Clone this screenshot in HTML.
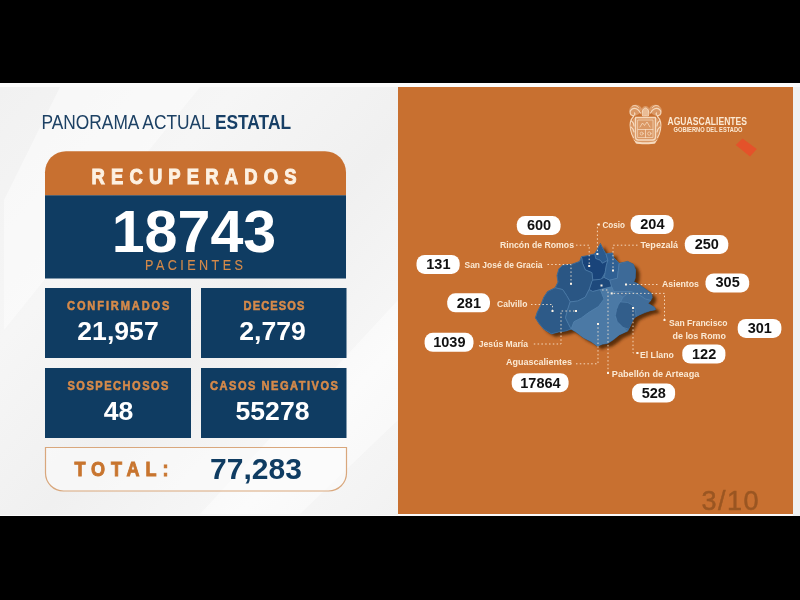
<!DOCTYPE html>
<html lang="es"><head><meta charset="utf-8"><title>Panorama actual estatal</title>
<style>
html,body{margin:0;padding:0;background:#000;}
body{width:800px;height:600px;overflow:hidden;position:relative;font-family:"Liberation Sans",sans-serif;}
svg{position:absolute;left:0;top:0;display:block}
text{font-family:"Liberation Sans",sans-serif}
.b{font-weight:bold}
.lab{fill:#fbe9d3;font-size:9.7px;font-weight:bold}
.pn{font-weight:bold;fill:#111;font-size:14.5px;text-anchor:middle}
.ld{stroke:#fbe9d3;stroke-width:1;fill:none;stroke-dasharray:1.5 2.3;opacity:0.85}
.dt{fill:#fdf3e6}
</style></head><body>
<svg width="800" height="600" viewBox="0 0 800 600">
<defs>
<linearGradient id="bg" x1="0" y1="0" x2="1" y2="1">
<stop offset="0" stop-color="#f1f1f1"/><stop offset="0.3" stop-color="#f6f6f6"/><stop offset="0.55" stop-color="#f0f0f0"/><stop offset="0.8" stop-color="#f7f7f7"/><stop offset="1" stop-color="#f2f2f2"/>
</linearGradient>
<filter id="sh" x="-20%" y="-20%" width="150%" height="150%"><feGaussianBlur stdDeviation="1.8"/></filter>
</defs>
<rect x="0" y="0" width="800" height="600" fill="#000"/>
<rect x="0" y="83" width="800" height="433" fill="#fbfbfb"/>
<rect x="0" y="87" width="398" height="428" fill="url(#bg)"/>
<polygon points="60,87 200,87 4,330 4,200" fill="#ffffff" opacity="0.45"/>
<polygon points="398,300 398,420 300,514 200,514" fill="#ffffff" opacity="0.45"/>
<rect x="793" y="87" width="7" height="429" fill="#f0f2f2"/>

<rect x="398" y="87" width="395" height="427" fill="#c87030"/>
<text x="41.5" y="129" font-size="21" fill="#1d4164" textLength="249.5" lengthAdjust="spacingAndGlyphs">PANORAMA ACTUAL <tspan class="b" fill="#173f66">ESTATAL</tspan></text>
<path d="M45 195.500V172.200a21 21 0 0 1 21-21H325a21 21 0 0 1 21 21V195.500Z" fill="#c87030"/>
<rect x="45" y="195.300" width="301" height="83.200" fill="#0f3c62"/>
<text class="b" transform="translate(91.5 184) scale(0.84 1)" font-size="22" fill="#fdf1e2" stroke="#fdf1e2" stroke-width="0.99" textLength="244.05" lengthAdjust="spacing">RECUPERADOS</text>
<text x="194" y="252" class="b" font-size="59.2" fill="#ffffff" text-anchor="middle">18743</text>
<text transform="translate(145 270.3) scale(0.9 1)" font-size="14" fill="#d68a4a" stroke="#d68a4a" stroke-width="0.15" textLength="108.89" lengthAdjust="spacing">PACIENTES</text>
<rect x="45" y="288" width="146" height="70" fill="#0f3c62"/>
<text class="b" transform="translate(67 309.7) scale(0.84 1)" font-size="13.2" fill="#d68a4a" stroke="#d68a4a" stroke-width="0.59" textLength="122.02" lengthAdjust="spacing">CONFIRMADOS</text>
<text x="118" y="340" class="b" font-size="26.6" fill="#ffffff" text-anchor="middle">21,957</text>
<rect x="201" y="288" width="145.5" height="70" fill="#0f3c62"/>
<text class="b" transform="translate(243.5 309.7) scale(0.84 1)" font-size="13.2" fill="#d68a4a" stroke="#d68a4a" stroke-width="0.59" textLength="72.62" lengthAdjust="spacing">DECESOS</text>
<text x="272.5" y="340" class="b" font-size="26.6" fill="#ffffff" text-anchor="middle">2,779</text>
<rect x="45" y="368" width="146" height="70" fill="#0f3c62"/>
<text class="b" transform="translate(67.5 389.7) scale(0.84 1)" font-size="13.2" fill="#d68a4a" stroke="#d68a4a" stroke-width="0.59" textLength="120.24" lengthAdjust="spacing">SOSPECHOSOS</text>
<text x="118.5" y="420" class="b" font-size="26.6" fill="#ffffff" text-anchor="middle">48</text>
<rect x="201" y="368" width="145.5" height="70" fill="#0f3c62"/>
<text class="b" transform="translate(210 389.7) scale(0.84 1)" font-size="13.2" fill="#d68a4a" stroke="#d68a4a" stroke-width="0.59" textLength="152.38" lengthAdjust="spacing">CASOS NEGATIVOS</text>
<text x="272.5" y="420" class="b" font-size="26.6" fill="#ffffff" text-anchor="middle">55278</text>
<path d="M45.500 447.500H346.500V473a18 18 0 0 1-18 18H63.500a18 18 0 0 1-18-18Z" fill="#fbfbfb" fill-opacity="0.6" stroke="#d9a77c" stroke-width="1.2"/>
<text class="b" transform="translate(74.5 476) scale(0.86 1)" font-size="21" fill="#c8752f" stroke="#c8752f" stroke-width="0.94" textLength="109.3" lengthAdjust="spacing">TOTAL:</text>
<text x="256" y="478.5" class="b" font-size="30" fill="#0f3c62" text-anchor="middle">77,283</text>
<text x="667.5" y="125.2" class="b" font-size="10.6" fill="#fbe9d3" textLength="79.5" lengthAdjust="spacingAndGlyphs">AGUASCALIENTES</text>
<text x="673.5" y="131.6" class="b" font-size="6.3" fill="#fbe9d3" textLength="69" lengthAdjust="spacingAndGlyphs">GOBIERNO DEL ESTADO</text>
<polygon points="735.7,144.9 742.5,138.5 756.8,149 750,156.5" fill="#e4522a"/>
<g transform="translate(628 104)" stroke-linecap="round" stroke-linejoin="round">
<g fill="#f6d9bd" fill-opacity="0.38" stroke="none">
<path d="M6 14c-3 3-4 9-3 15c1 5 3 9 6 11h17c3-2 5-6 6-11c1-6 0-12-3-15Z"/>
<path d="M2 9c-2-3 0-7 4-8c4-1 7 1 8 4l-3 5l-6 3Z"/>
<path d="M33 9c2-3 0-7-4-8c-4-1-7 1-8 4l3 5l6 3Z"/>
<ellipse cx="17.500" cy="7" rx="4.200" ry="5"/>
</g>
<g fill="none" stroke="#f9e0c6" stroke-opacity="0.92">
<path d="M7.500 13.500h20v19.500a3 3 0 0 1-3 3h-14a3 3 0 0 1-3-3Z" stroke-width="1.300"/>
<path d="M10 16h15v17.500h-15Z" stroke-width="0.700"/>
<path d="M10 25.500h15M17.500 25.500v8" stroke-width="0.800"/>
<path d="M12 23l2.500-4l2 2.500l2.500-3.500l3 5" stroke-width="0.800"/>
<circle cx="13.700" cy="29.600" r="1.500" stroke-width="0.700"/>
<circle cx="21.300" cy="29.600" r="1.700" stroke-width="0.700"/>
<path d="M14.500 11.500c-1-3 0-7 3-7.500c3 0.500 4 4.500 3 7.500Z" stroke-width="1" fill="#f9e0c6" fill-opacity="0.5"/>
<path d="M12.500 9c-2-4-6-6-9-3.500c-2.500 2-1.500 5.500 1 6c2 0.400 3-1.500 2-2.500" stroke-width="1.200"/>
<path d="M22.500 9c2-4 6-6 9-3.500c2.500 2 1.500 5.500-1 6c-2 0.400-3-1.500-2-2.500" stroke-width="1.200"/>
<path d="M10.500 3.500c-2-2.500-5-2.500-6.500-1M24.500 3.500c2-2.500 5-2.500 6.500-1" stroke-width="0.900"/>
<path d="M5.500 12.500c-3 3-4 8-3 13c0.500 3 1.500 6 3 8M3.500 17c1.500 1 2.500 3 2.500 5M3 23c1.500 1 2.500 3 3 5" stroke-width="1.100"/>
<path d="M29.500 12.500c3 3 4 8 3 13c-0.500 3-1.500 6-3 8M31.500 17c-1.500 1-2.500 3-2.500 5M32 23c-1.500 1-2.500 3-3 5" stroke-width="1.100"/>
<path d="M8.500 38.500c3 1 15 1 18 0" stroke-width="2.200"/>
<path d="M6.500 36.500l2 2M28.500 36.500l-2 2" stroke-width="1"/>
</g></g>

<text x="701.5" y="510" font-size="27" fill="#7a4418" stroke="#7a4418" stroke-width="0.5" opacity="0.58" letter-spacing="1.5">3/10</text>
<polygon points="604.5,246.7 607.3,252.3 610.2,257.0 616.8,256.1 617.7,260.8 623.4,266.5 631.8,264.6 637.5,267.4 639.8,273.3 639.4,281.4 637.9,285.1 641.6,286.8 647.1,290.6 652.6,294.4 655.8,297.0 656.3,300.8 654.5,304.3 652.2,306.6 655.4,308.5 659.0,310.7 659.5,313.0 654.5,314.0 649.0,315.8 643.5,318.1 638.8,320.7 636.6,324.5 634.7,328.6 631.8,334.3 623.4,338.1 617.7,342.8 612.1,346.6 606.4,347.5 601.7,349.4 595.1,344.7 587.6,340.9 580.0,335.2 575.3,332.4 569.7,334.3 563.1,335.2 555.5,337.1 548.0,332.4 543.3,326.8 539.5,321.1 541.4,315.5 545.2,307.9 548.0,300.4 551.8,294.7 559.3,291.0 562.1,285.3 561.2,278.7 563.1,272.1 566.8,268.4 576.3,267.4 583.8,264.6 585.7,259.9 591.3,258.9 598.9,257.0 601.7,252.3" fill="#3e1c04" opacity="0.78" filter="url(#sh)"/>
<polygon points="600.4,243.5 603.2,249.1 606.0,253.8 612.6,252.9 613.6,257.6 619.2,263.3 627.7,261.4 633.3,264.2 635.6,270.0 635.2,278.2 633.7,281.9 637.5,283.6 643.0,287.4 648.4,291.2 651.6,293.8 652.2,297.6 650.3,301.1 648.0,303.4 651.2,305.3 654.8,307.5 655.4,309.8 650.3,310.7 644.8,312.6 639.4,314.9 634.7,317.5 632.4,321.3 630.5,325.4 627.7,331.1 619.2,334.9 613.6,339.6 607.9,343.3 602.3,344.3 597.5,346.2 591.0,341.5 583.4,337.7 575.9,332.0 571.2,329.2 565.5,331.1 558.9,332.0 551.4,333.9 543.8,329.2 539.1,323.6 535.4,317.9 537.2,312.3 541.0,304.7 543.8,297.2 547.6,291.5 555.1,287.8 558.0,282.1 557.0,275.5 558.9,268.9 562.7,265.1 572.1,264.2 579.6,261.4 581.5,256.7 587.2,255.7 594.7,253.8 597.5,249.1" fill="#34628f" stroke="#34628f" stroke-width="0.8" stroke-linejoin="round"/>
<clipPath id="mc"><polygon points="600.4,243.5 603.2,249.1 606.0,253.8 612.6,252.9 613.6,257.6 619.2,263.3 627.7,261.4 633.3,264.2 635.6,270.0 635.2,278.2 633.7,281.9 637.5,283.6 643.0,287.4 648.4,291.2 651.6,293.8 652.2,297.6 650.3,301.1 648.0,303.4 651.2,305.3 654.8,307.5 655.4,309.8 650.3,310.7 644.8,312.6 639.4,314.9 634.7,317.5 632.4,321.3 630.5,325.4 627.7,331.1 619.2,334.9 613.6,339.6 607.9,343.3 602.3,344.3 597.5,346.2 591.0,341.5 583.4,337.7 575.9,332.0 571.2,329.2 565.5,331.1 558.9,332.0 551.4,333.9 543.8,329.2 539.1,323.6 535.4,317.9 537.2,312.3 541.0,304.7 543.8,297.2 547.6,291.5 555.1,287.8 558.0,282.1 557.0,275.5 558.9,268.9 562.7,265.1 572.1,264.2 579.6,261.4 581.5,256.7 587.2,255.7 594.7,253.8 597.5,249.1"/></clipPath><g clip-path="url(#mc)">
<polygon points="600.4,243.5 603.2,249.1 606.0,253.8 607.9,260.4 602.3,263.3 600.4,260.4 595.7,258.6 594.7,253.8 597.5,249.1" fill="#2a5a8e" stroke="#5584b0" stroke-width="0.6" stroke-linejoin="round"/>
<polygon points="581.5,256.7 587.2,255.7 594.7,253.8 595.7,258.6 600.4,260.4 602.3,263.3 607.9,260.4 606.4,265.1 605.1,272.7 601.3,279.3 592.8,280.2 591.9,272.7 585.3,269.9 582.5,263.3" fill="#19447a" stroke="#5584b0" stroke-width="0.6" stroke-linejoin="round"/>
<polygon points="591.9,281.2 592.8,280.2 600.4,279.3 604.1,277.4 609.8,280.2 611.7,286.8 600.4,289.6 592.8,291.5 589.1,289.6" fill="#1e497c" stroke="#5584b0" stroke-width="0.6" stroke-linejoin="round"/>
<polygon points="606.0,253.8 612.6,252.9 613.6,257.6 619.2,263.3 618.3,270.8 617.3,278.3 609.8,280.2 604.1,277.4 605.1,272.7 606.4,265.1 607.9,260.4" fill="#306093" stroke="#5584b0" stroke-width="0.6" stroke-linejoin="round"/>
<polygon points="619.2,263.3 627.7,261.4 636.2,263.3 638.1,269.9 638.1,277.4 635.2,282.1 639.9,283.0 649.4,288.7 656.9,295.3 660.7,303.2 645.6,299.1 638.1,294.4 630.5,291.5 613.6,291.5 611.7,286.8 609.8,280.2 617.3,278.3 618.3,270.8" fill="#3d6a98" stroke="#5584b0" stroke-width="0.6" stroke-linejoin="round"/>
<polygon points="558.9,268.9 562.7,265.1 572.1,264.2 579.6,261.4 581.5,256.7 582.5,263.3 585.3,269.9 591.9,272.7 592.8,280.2 591.9,281.2 589.1,289.6 585.3,297.2 577.8,301.0 570.2,301.9 566.5,295.3 562.7,289.6 555.1,287.8 558.0,282.1 557.0,275.5" fill="#2a5684" stroke="#5584b0" stroke-width="0.6" stroke-linejoin="round"/>
<polygon points="555.1,287.8 562.7,289.6 566.5,295.3 570.2,301.9 567.4,310.4 565.5,317.9 568.3,323.6 571.2,329.2 565.5,331.1 558.9,332.0 551.4,333.9 543.8,329.2 539.1,323.6 535.4,317.9 537.2,312.3 541.0,304.7 543.8,297.2 547.6,291.5" fill="#2d5a88" stroke="#5584b0" stroke-width="0.6" stroke-linejoin="round"/>
<polygon points="570.2,301.9 577.8,301.0 585.3,297.2 589.1,289.6 592.8,291.5 600.4,289.6 604.1,299.1 598.5,306.6 589.1,312.3 581.5,317.9 574.0,321.7 571.2,329.2 568.3,323.6 565.5,317.9 567.4,310.4" fill="#34628f" stroke="#5584b0" stroke-width="0.6" stroke-linejoin="round"/>
<polygon points="600.4,289.6 611.7,286.8 613.6,291.5 623.0,297.2 619.2,304.7 615.4,316.0 619.2,323.6 627.7,331.1 619.2,334.9 613.6,339.6 607.9,343.3 602.3,344.3 597.5,346.2 591.0,341.5 583.4,337.7 575.9,332.0 571.2,329.2 574.0,321.7 581.5,317.9 589.1,312.3 598.5,306.6 604.1,299.1" fill="#4b79a5" stroke="#5584b0" stroke-width="0.6" stroke-linejoin="round"/>
<polygon points="613.6,291.5 630.5,291.5 623.0,297.2" fill="#456f9b" stroke="#5584b0" stroke-width="0.6" stroke-linejoin="round"/>
<polygon points="623.0,297.2 630.5,291.5 638.1,294.4 645.6,299.1 660.7,303.2 662.6,306.6 660.7,312.3 649.4,314.1 641.8,317.9 638.1,324.5 632.4,329.2 628.6,333.0 619.2,323.6 615.4,316.0 619.2,304.7" fill="#406d9a" stroke="#5584b0" stroke-width="0.6" stroke-linejoin="round"/>
<polygon points="620.2,301.9 627.7,302.5 632.4,305.1 635.2,309.4 636.2,317.9 633.3,323.6 628.6,329.2 623.0,327.3 617.3,321.7 615.4,315.6 616.6,309.4 618.3,305.1" fill="#325e8b" stroke="#5584b0" stroke-width="0.6" stroke-linejoin="round"/>
</g>
<text class="lab" x="500" y="248" textLength="74" lengthAdjust="spacingAndGlyphs">Rincón de Romos</text>
<text class="lab" x="464.5" y="268" textLength="78" lengthAdjust="spacingAndGlyphs">San José de Gracia</text>
<text class="lab" x="497" y="307" textLength="30.5" lengthAdjust="spacingAndGlyphs">Calvillo</text>
<text class="lab" x="478.8" y="347" textLength="49.2" lengthAdjust="spacingAndGlyphs">Jesús María</text>
<text class="lab" x="506" y="365" textLength="66" lengthAdjust="spacingAndGlyphs">Aguascalientes</text>
<text class="lab" x="602.5" y="228" textLength="22.5" lengthAdjust="spacingAndGlyphs">Cosio</text>
<text class="lab" x="640.5" y="248" textLength="37.5" lengthAdjust="spacingAndGlyphs">Tepezalá</text>
<text class="lab" x="662" y="287" textLength="37" lengthAdjust="spacingAndGlyphs">Asientos</text>
<text class="lab" x="669" y="325.5" textLength="58.5" lengthAdjust="spacingAndGlyphs">San Francisco</text>
<text class="lab" x="672.5" y="339" textLength="53.5" lengthAdjust="spacingAndGlyphs">de los Romo</text>
<text class="lab" x="640" y="357.5" textLength="33.8" lengthAdjust="spacingAndGlyphs">El Llano</text>
<text class="lab" x="611.8" y="377" textLength="87.5" lengthAdjust="spacingAndGlyphs">Pabellón de Arteaga</text>
<rect x="516.8" y="216.0" width="43.8" height="19" rx="8.2" fill="#ffffff"/>
<text class="pn" x="539.0" y="230.3">600</text>
<rect x="416.5" y="254.9" width="43.2" height="19" rx="8.2" fill="#ffffff"/>
<text class="pn" x="438.4" y="269.2">131</text>
<rect x="447.2" y="293.3" width="42.8" height="19" rx="8.2" fill="#ffffff"/>
<text class="pn" x="468.9" y="307.6">281</text>
<rect x="424.6" y="332.8" width="48.9" height="19" rx="8.2" fill="#ffffff"/>
<text class="pn" x="449.35" y="347.1">1039</text>
<rect x="511.7" y="373.2" width="56.9" height="19" rx="8.2" fill="#ffffff"/>
<text class="pn" x="540.45" y="387.5">17864</text>
<rect x="630.6" y="214.9" width="43" height="19" rx="8.2" fill="#ffffff"/>
<text class="pn" x="652.4" y="229.2">204</text>
<rect x="684.8" y="235.0" width="43.5" height="19" rx="8.2" fill="#ffffff"/>
<text class="pn" x="706.85" y="249.3">250</text>
<rect x="705.5" y="273.4" width="43.7" height="19" rx="8.2" fill="#ffffff"/>
<text class="pn" x="727.65" y="286.7">305</text>
<rect x="737.7" y="318.9" width="43.7" height="19" rx="8.2" fill="#ffffff"/>
<text class="pn" x="759.85" y="333.2">301</text>
<rect x="682.3" y="344.6" width="43.1" height="19" rx="8.2" fill="#ffffff"/>
<text class="pn" x="704.15" y="358.9">122</text>
<rect x="632" y="383.6" width="43.1" height="19" rx="8.2" fill="#ffffff"/>
<text class="pn" x="653.85" y="397.9">528</text>
<path class="ld" d="M533.8 344H561V311H576"/>
<path class="ld" d="M576 363.8H598V324"/>
<path class="ld" d="M608 373V290H601.5"/>
<path class="ld" d="M637.5 353H633V308"/>
<path class="ld" d="M664.5 320V293.4H611.7"/>
<path class="ld" d="M657.500 284.500H626"/>
<path class="ld" d="M637.500 245.200H613V270.500"/>
<path class="ld" d="M598.8 224.500H597.400V254"/>
<path class="ld" d="M576 245.200H589.200V266"/>
<path class="ld" d="M547.500 264.500H571V283.800"/>
<path class="ld" d="M531 304.500H552.500V311"/>
<rect class="dt" x="575" y="310" width="2" height="2"/>
<rect class="dt" x="597" y="323" width="2" height="2"/>
<rect class="dt" x="600.5" y="284.5" width="2" height="2"/>
<rect class="dt" x="636.5" y="352" width="2" height="2"/>
<rect class="dt" x="632" y="307" width="2" height="2"/>
<rect class="dt" x="663.5" y="319" width="2" height="2"/>
<rect class="dt" x="610.7" y="292.4" width="2" height="2"/>
<rect class="dt" x="625" y="283.5" width="2" height="2"/>
<rect class="dt" x="612" y="269.5" width="2" height="2"/>
<rect class="dt" x="597.8" y="223.5" width="2" height="2"/>
<rect class="dt" x="588.2" y="265" width="2" height="2"/>
<rect class="dt" x="596.4" y="253" width="2" height="2"/>
<rect class="dt" x="570" y="282.8" width="2" height="2"/>
<rect class="dt" x="551.5" y="310" width="2" height="2"/>
<rect class="dt" x="607" y="372" width="2" height="2"/>
</svg></body></html>
